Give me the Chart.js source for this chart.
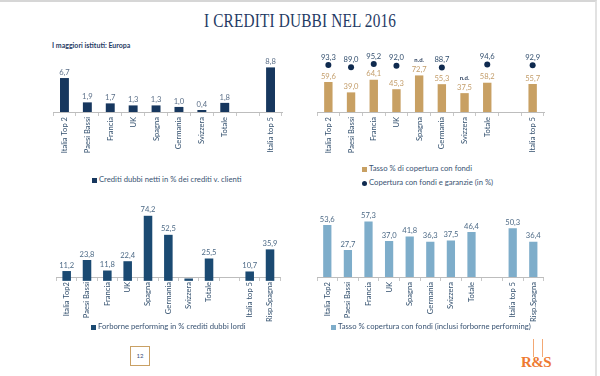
<!DOCTYPE html>
<html>
<head>
<meta charset="utf-8">
<script src="https://cdn.jsdelivr.net/npm/chart.js@4.4.1/dist/chart.umd.min.js"></script>
<style>
    body { margin: 0; background: #fff; }
    #slide { position: relative; width: 600px; height: 376px; overflow: hidden; background: #fff;
        font-family: Lato, "Open Sans", sans-serif; }
    #frame { position: absolute; left: 0; top: 0; width: 597px; height: 376px;
        border-top: 2px solid #d6d6d6; border-right: 2px solid #e2e2e2; box-sizing: border-box; }
    #titolo { position: absolute; left: 0; width: 600px; top: 11px; text-align: center;
        font-family: "Liberation Serif", serif; font-size: 18px; color: #1f3a64; letter-spacing: 0.2px; }
    #titolo span { display: inline-block; transform: scaleX(0.85); }
    #sottotitolo { position: absolute; left: 52px; top: 41px; font-size: 7px; font-weight: bold; color: #1f3a64; }
    canvas { position: absolute; }
    .legenda { position: absolute; font-size: 7.7px; color: #3a5473; white-space: nowrap; line-height: 9px; }
    .legenda i { display: inline-block; width: 5px; height: 5px; margin-right: 2px; vertical-align: -0.5px; }
    .legenda i.tondo { border-radius: 50%; }
    #pagina { position: absolute; left: 130px; top: 346px; width: 20px; height: 20px; box-sizing: border-box;
        border: 1.5px solid #c9a064; font-size: 6px; color: #3a4f78; text-align: center; line-height: 17px; }
    #logo { position: absolute; left: 521px; top: 354px; font-family: "Liberation Serif", serif; font-weight: bold;
        font-size: 15px; color: #ee7a31; letter-spacing: -0.5px; }
    .asta { position: absolute; top: 339px; width: 1px; height: 18px; background: #f3a874; }
</style>
</head>
<body>
<div id="slide">
    <div id="frame"></div>
    <div id="titolo"><span>I CREDITI DUBBI NEL 2016</span></div>
    <div id="sottotitolo">I maggiori istituti: Europa</div>

    <canvas id="chart_netti" width="250" height="110" style="left:40px;top:50px"></canvas>
    <canvas id="chart_copertura" width="250" height="115" style="left:300px;top:45px"></canvas>
    <canvas id="chart_forborne" width="250" height="130" style="left:40px;top:195px"></canvas>
    <canvas id="chart_inclusi" width="250" height="130" style="left:300px;top:195px"></canvas>

    <div class="legenda" style="left:92px;top:175px"><i style="background:#17375e"></i>Crediti dubbi netti in % dei crediti v. clienti</div>
    <div class="legenda" style="left:362px;top:164px"><i style="background:#c8a063"></i>Tasso % di copertura con fondi</div>
    <div class="legenda" style="left:362px;top:178px"><i class="tondo" style="background:#0f2a4f"></i>Copertura con fondi e garanzie (in %)</div>
    <div class="legenda" style="left:91px;top:322px"><i style="background:#1b4a72"></i>Forborne performing in % crediti dubbi lordi</div>
    <div class="legenda" style="left:331px;top:322px"><i style="background:#7eadca"></i>Tasso % copertura con fondi (inclusi forborne performing)</div>

    <div id="pagina">12</div>
    <div class="asta" style="left:533px"></div>
    <div class="asta" style="left:542px"></div>
    <div id="logo">R&amp;S</div>
</div>

<script>
// categorie (la colonna vuota separa Totale dalle italiane)
var categorieTop = ['Italia Top 2', 'Paesi Bassi', 'Francia', 'UK', 'Spagna', 'Germania', 'Svizzera', 'Totale', '', 'Italia top 5'];
var categorieBottom = ['Italia Top2', 'Paesi Bassi', 'Francia', 'UK', 'Spagna', 'Germania', 'Svizzera', 'Totale', '', 'Italia top 5', 'Risp.Spagna'];

// valori
var creditiDubbiNetti = [6.7, 1.9, 1.7, 1.3, 1.3, 1.0, 0.4, 1.8, null, 8.8];
var tassoCopertura = [59.6, 39.0, 64.1, 45.3, 72.7, 55.3, 37.5, 58.2, null, 55.7];
var coperturaGaranzie = [93.3, 89.0, 95.2, 92.0, null, 88.7, null, 94.6, null, 92.9];
var forbornePerforming = [11.2, 23.8, 11.8, 22.4, 74.2, 52.5, 2.7, 25.5, null, 10.7, 35.9];
var coperturaInclusiForborne = [53.6, 27.7, 57.3, 37.0, 41.8, 36.3, 37.5, 46.4, null, 50.3, 36.4];

Chart.defaults.font.family = 'Lato, "Open Sans", sans-serif';
Chart.defaults.font.size = 7.5;

function formatta(v) {
    return v.toFixed(1).replace('.', ',');
}

// etichette con il valore sopra barre e punti
var etichettePlugin = {
    id: 'etichette',
    afterDatasetsDraw: function(chart) {
        var ctx = chart.ctx;
        var yScale = chart.scales.y;
        ctx.save();
        ctx.font = '7.6px Lato, "Open Sans", sans-serif';
        ctx.textAlign = 'center';
        ctx.textBaseline = 'bottom';
        chart.data.datasets.forEach(function(ds, i) {
            var meta = chart.getDatasetMeta(i);
            meta.data.forEach(function(el, j) {
                var v = ds.data[j];
                if (v === null || v === undefined) {
                    // dato non disponibile: n.d. sopra la barra
                    if (ds.nd && categorieTop[j] !== '') {
                        var bar = chart.getDatasetMeta(0).data[j];
                        ctx.save();
                        ctx.font = 'bold 6px Lato, "Open Sans", sans-serif';
                        ctx.fillStyle = '#2a3f5e';
                        ctx.fillText('n.d.', bar.x, bar.y - 12);
                        ctx.restore();
                    }
                    return;
                }
                if (v < yScale.min) return;
                ctx.fillStyle = ds.labelColor;
                var off = ds.type === 'line' ? 4 : 2;
                ctx.fillText(formatta(v), el.x, el.y - off);
            });
        });
        ctx.restore();
    }
};

function assi(ymin, ymax) {
    return {
        x: {
            grid: { offset: true, drawOnChartArea: false, drawTicks: true, tickLength: 4, color: '#c8c8c8' },
            border: { color: '#bdbdbd' },
            ticks: { minRotation: 90, maxRotation: 90, autoSkip: false, padding: 1, color: '#33506e',
                font: { size: 7.6 } },
            afterFit: function(scale) { scale.height = 48; }
        },
        y: { display: false, min: ymin, max: ymax }
    };
}

function creaGrafico(id, labels, datasets, ymin, ymax, padding) {
    var ctx = document.getElementById(id).getContext('2d');
    return new Chart(ctx, {
        type: 'bar',
        data: { labels: labels, datasets: datasets },
        options: {
            responsive: false,
            animation: false,
            devicePixelRatio: 1,
            layout: { padding: padding },
            plugins: { legend: { display: false }, tooltip: { enabled: false } },
            scales: assi(ymin, ymax)
        },
        plugins: [etichettePlugin]
    });
}

creaGrafico('chart_netti', categorieTop, [{
    data: creditiDubbiNetti,
    backgroundColor: '#17375e',
    barPercentage: 0.39,
    categoryPercentage: 1,
    labelColor: '#5b6f88'
}], 0, 10.26, { left: 13, right: 8, top: 10, bottom: 0 });

creaGrafico('chart_copertura', categorieTop, [{
    data: tassoCopertura,
    backgroundColor: '#c8a063',
    barPercentage: 0.37,
    categoryPercentage: 1,
    labelColor: '#c39d6a'
}, {
    type: 'line',
    data: coperturaGaranzie,
    showLine: false,
    pointRadius: 3,
    pointBackgroundColor: '#0f2a4f',
    pointBorderWidth: 0,
    labelColor: '#34506f',
    nd: true
}], 0, 113.3, { left: 17, right: 6, top: 10, bottom: 0 });

creaGrafico('chart_forborne', categorieBottom, [{
    data: forbornePerforming,
    backgroundColor: '#1b4a72',
    barPercentage: 0.42,
    categoryPercentage: 1,
    clip: false,
    labelColor: '#4d6a86'
}], 4.4, 86.5, { left: 16.5, right: 9.8, top: 10, bottom: 0 });

creaGrafico('chart_inclusi', categorieBottom, [{
    data: coperturaInclusiForborne,
    backgroundColor: '#7eadca',
    barPercentage: 0.4,
    categoryPercentage: 1,
    labelColor: '#4d6a86'
}], 0, 74.2, { left: 17, right: 6.4, top: 10, bottom: 0 });
</script>
</body>
</html>
